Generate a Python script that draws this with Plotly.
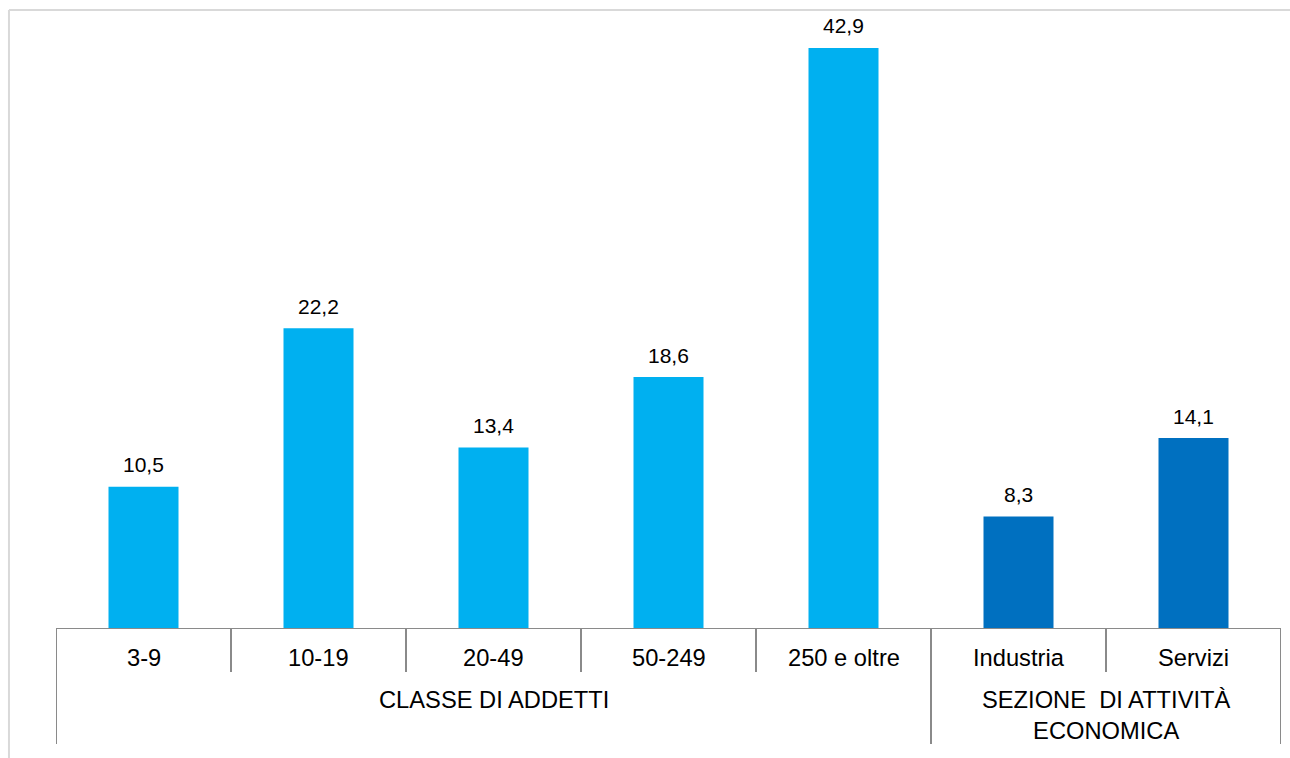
import plotly.graph_objects as go

# Share of firms (%) by size class and by economic sector
categories = ["3-9", "10-19", "20-49", "50-249", "250 e oltre", "Industria", "Servizi"]
values = [10.5, 22.2, 13.4, 18.6, 42.9, 8.3, 14.1]
group_of = ["addetti"] * 5 + ["sezione"] * 2

groups = {
    "addetti": {"label": "CLASSE DI ADDETTI", "first": 0, "last": 4, "color": "#00B0F0"},
    "sezione": {"label": "SEZIONE\u00a0 DI ATTIVITÀ<br>ECONOMICA", "first": 5, "last": 6, "color": "#0070C0"},
}

FONT = "Liberation Sans, Arial, sans-serif"
AXIS_GREY = "#8a8a8a"
FRAME_GREY = "#d9d9d9"

bar_colors = [groups[g]["color"] for g in group_of]

fig = go.Figure(
    go.Bar(
        x=categories,
        y=values,
        marker=dict(color=bar_colors, line=dict(width=0)),
        width=0.4,
        hoverinfo="x+y",
    )
)

annotations = []
# value labels above bars
for c, v in zip(categories, values):
    annotations.append(dict(
        x=c, y=v, xref="x", yref="y", text=f"{v:.1f}".replace(".", ","),
        showarrow=False, yanchor="middle", yshift=22,
        font=dict(family=FONT, size=21, color="#000000"),
    ))
# category labels under the axis
for c in categories:
    annotations.append(dict(
        x=c, y=0, xref="x", yref="paper", text=c, showarrow=False,
        yanchor="middle", yshift=-29,
        font=dict(family=FONT, size=23.7, color="#000000"),
    ))
# group labels
for key, g in groups.items():
    mid = (g["first"] + g["last"]) / 2
    two_lines = "<br>" in g["label"]
    annotations.append(dict(
        x=mid, y=0, xref="x", yref="paper", text=g["label"], showarrow=False,
        yanchor="middle", yshift=-86 if two_lines else -71, align="center",
        font=dict(family=FONT, size=23.7, color="#000000"),
    ))

shapes = []
# separators between categories (short) and between groups (long)
n = len(categories)
group_edges = set()
for g in groups.values():
    group_edges.add(g["first"] - 0.5)
    group_edges.add(g["last"] + 0.5)
for k in range(n + 1):
    xb = k - 0.5
    depth = -115 if xb in group_edges else -43
    shapes.append(dict(
        type="line", xref="x", yref="paper", ysizemode="pixel", yanchor=0,
        x0=xb, x1=xb, y0=0, y1=depth,
        line=dict(color=AXIS_GREY, width=2),
    ))
# axis baseline
shapes.append(dict(
    type="line", xref="x", yref="y", x0=-0.5, x1=n - 0.5, y0=0, y1=0,
    line=dict(color=AXIS_GREY, width=2),
))
# light chart frame
shapes.append(dict(type="line", xref="paper", yref="paper",
                   x0=-0.0384, x1=1.02, y0=1.0, y1=1.0,
                   line=dict(color=FRAME_GREY, width=2)))
shapes.append(dict(type="line", xref="paper", yref="paper",
                   x0=-0.0384, x1=-0.0384, y0=1.0, y1=-0.25,
                   line=dict(color=FRAME_GREY, width=2)))

fig.update_layout(
    width=1290, height=758, autosize=False,
    margin=dict(l=56, r=9, t=10, b=129, pad=0),
    paper_bgcolor="white", plot_bgcolor="white",
    showlegend=False, bargap=0.6,
    separators=",.",
    xaxis=dict(type="category", range=[-0.5, n - 0.5], showticklabels=False,
               showline=False, showgrid=False, zeroline=False, ticks=""),
    yaxis=dict(range=[0, 45.7], visible=False, showgrid=False, zeroline=False),
    annotations=annotations,
    shapes=shapes,
)

fig.write_html("out.html")
